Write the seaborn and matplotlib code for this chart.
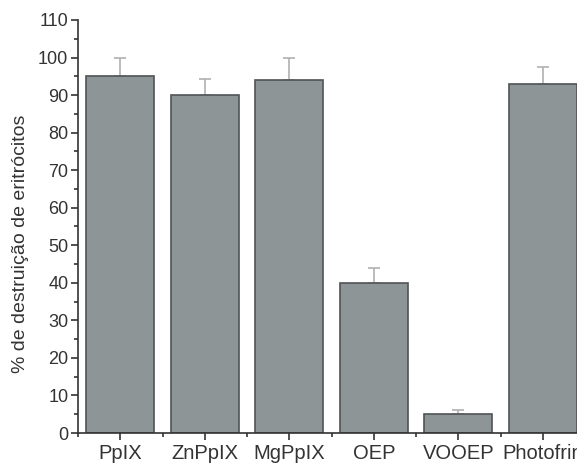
import matplotlib
matplotlib.use("Agg")
import matplotlib.pyplot as plt
import seaborn as sns
import pandas as pd
import numpy as np
from matplotlib.ticker import MultipleLocator, FixedLocator

compounds = ["PpIX", "ZnPpIX", "MgPpIX", "OEP", "VOOEP", "Photofrin"]
destruction = [95, 90, 94, 40, 5, 93]
errors = [5, 4.2, 6, 4, 1.2, 4.5]

df = pd.DataFrame({"Compound": compounds, "Destruicao": destruction})

sns.set_style("ticks")
plt.rcParams["font.family"] = ["Liberation Sans", "DejaVu Sans"]

fig = plt.figure(figsize=(5.77, 4.65), dpi=100)
# axes spans x = -0.5 .. 5.5, right part falls outside the picture
ax = fig.add_axes([78 / 577, 1 - 433 / 465, (585 - 78) / 577, (433 - 20) / 465])

sns.barplot(data=df, x="Compound", y="Destruicao", color="#8e9597",
            saturation=1, width=0.8, edgecolor="#505457", linewidth=1.2,
            errorbar=None, ax=ax)
ax.errorbar(np.arange(len(compounds)), destruction, yerr=[np.zeros(len(errors)), errors],
            fmt="none", ecolor="#b0b0b0", elinewidth=1.2, capsize=4, capthick=1.2, zorder=0)

ax.set_xlim(-0.5, 5.5)
ax.set_ylim(0, 110)
ax.yaxis.set_major_locator(MultipleLocator(10))
ax.yaxis.set_minor_locator(MultipleLocator(5))
ax.xaxis.set_minor_locator(FixedLocator(np.arange(-0.5, 6, 1)))

sns.despine(ax=ax, top=True, right=True)
for side in ["left", "bottom"]:
    ax.spines[side].set_color("#333333")
    ax.spines[side].set_linewidth(1.2)

ax.tick_params(axis="both", which="major", length=5, width=1.2, color="#333333")
ax.tick_params(axis="both", which="minor", length=3, width=1.2, color="#333333")
ax.tick_params(axis="y", labelsize=13, labelcolor="#333333", pad=2)
ax.tick_params(axis="x", labelsize=14.5, labelcolor="#333333", pad=3)

ax.set_xlabel("")
ax.set_ylabel("% de destruição de eritrócitos", fontsize=14, color="#333333", labelpad=6)
ax.yaxis.set_label_coords(-0.097, 0.457)

fig.savefig("out.png", dpi=100)
